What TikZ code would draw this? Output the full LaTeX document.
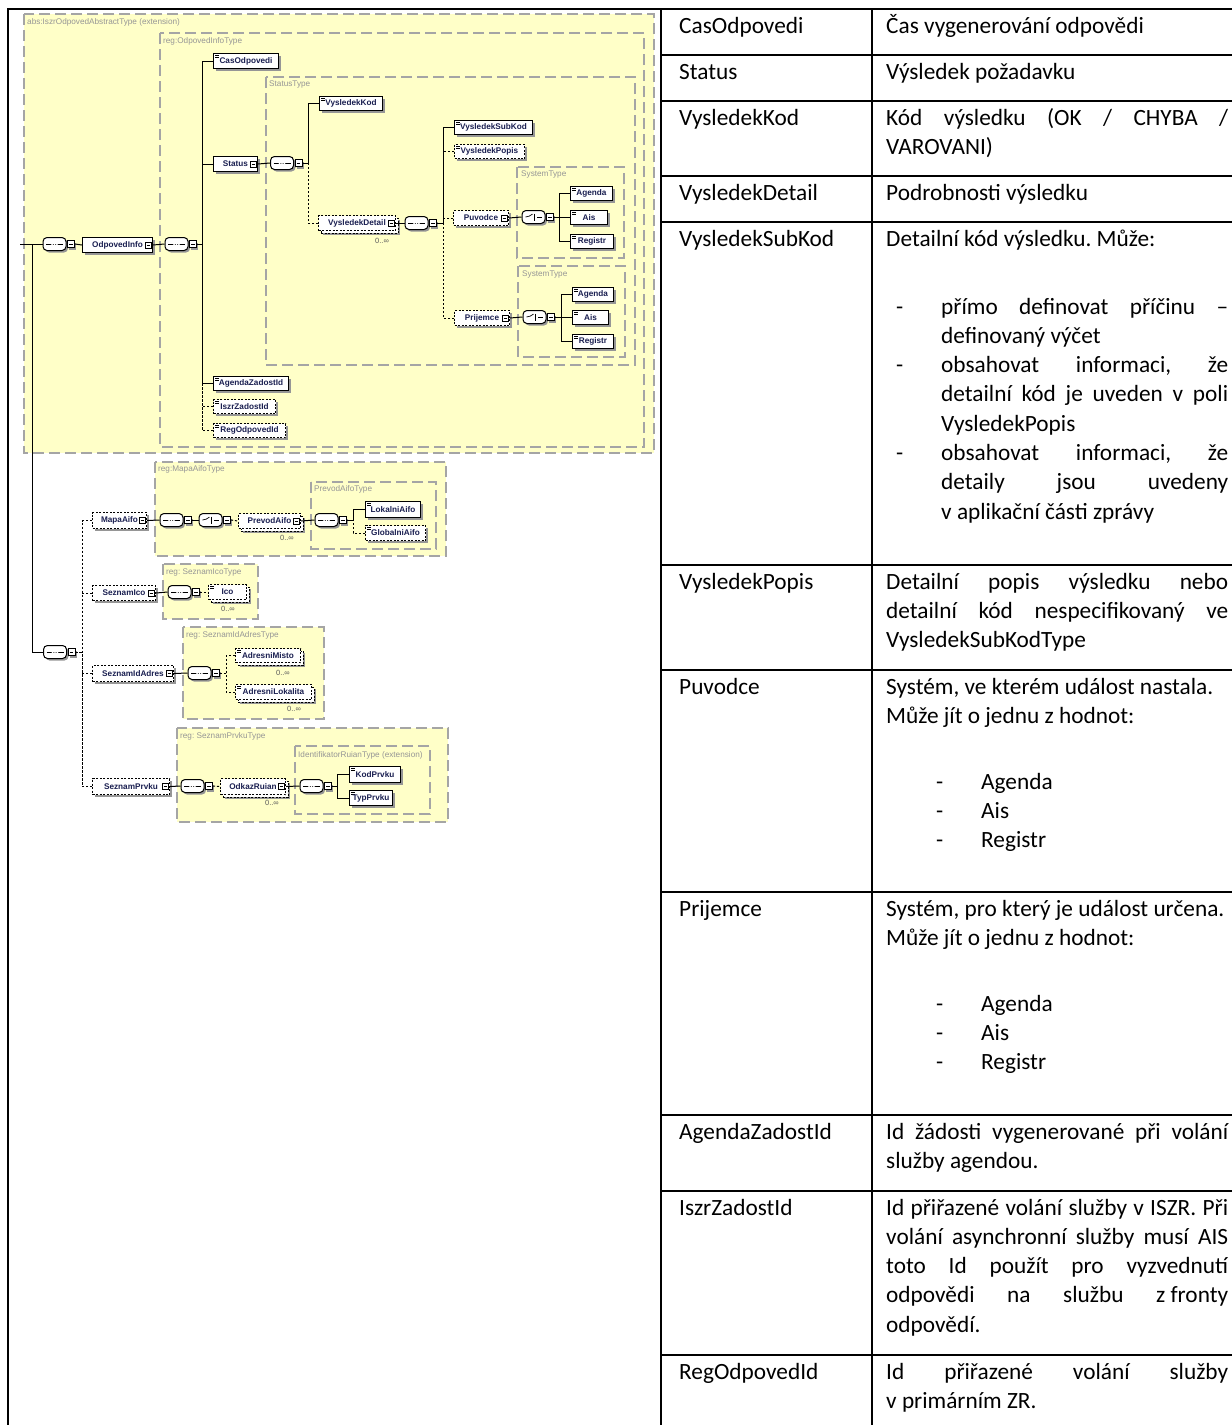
\documentclass[tikz,border=0pt]{standalone}
\usepackage{fontspec}
\setmainfont{Carlito}
\newfontfamily\dfont{Liberation Sans}
\definecolor{ylw}{RGB}{255,255,200}
\definecolor{boxgray}{RGB}{165,165,165}
\definecolor{labgray}{RGB}{150,150,150}
\definecolor{shgray}{RGB}{150,150,150}
\definecolor{eltext}{RGB}{25,30,80}
\definecolor{occgray}{RGB}{90,90,90}
\frenchspacing
\tikzset{
 ybox/.style={draw=boxgray, fill=ylw, line width=1.1pt, dash pattern=on 11pt off 5pt},
 tlab/.style={font=\dfont\fontsize{8.2}{9}\selectfont, text=labgray, anchor=west, inner sep=0},
 shadowed/.style={preaction={fill=shgray, draw=none, transform canvas={shift={(2pt,-2pt)}}}},
 el/.style={rectangle, draw=black, line width=1pt, fill=white, inner sep=0, anchor=north west,
   font=\dfont\bfseries\fontsize{8.2}{9}\selectfont, text=eltext, shadowed},
 opt/.style={dash pattern=on 2pt off 1.5pt},
 simp/.style={path picture={\draw[solid,line width=0.6pt]
   ([xshift=1.5pt,yshift=-2pt]path picture bounding box.north west) -- ++(4pt,0pt)
   ([xshift=1.5pt,yshift=-3.6pt]path picture bounding box.north west) -- ++(4pt,0pt);}},
 expd/.style={path picture={\draw[solid, line width=0.8pt, fill=white]
   ([xshift=-7.5pt,yshift=-3pt]path picture bounding box.east) rectangle ([xshift=-1.5pt,yshift=3pt]path picture bounding box.east);
   \draw[solid,line width=0.7pt] ([xshift=-6pt]path picture bounding box.east) -- ([xshift=-3pt]path picture bounding box.east);}},
 multi/.style={preaction={fill=shgray,draw=none,transform canvas={shift={(4.5pt,-4.5pt)}}},
   preaction={fill=white,draw=black,dash pattern=on 2pt off 1.5pt,transform canvas={shift={(2.5pt,-2.5pt)}}}},
 comp/.style={rectangle, rounded corners=4pt, draw=black, line width=1pt, fill=white,
   minimum width=23pt, minimum height=13pt, inner sep=0, shadowed},
 seqc/.style={comp, path picture={\draw[solid,line width=0.8pt]
   ([xshift=3pt]path picture bounding box.west) -- ([xshift=-3pt]path picture bounding box.east);
   \foreach \d in {-2.4,0,2.4}{\fill ([xshift=\d pt]path picture bounding box.center) circle (1.2pt);}}},
 choicec/.style={comp, path picture={
   \draw[solid,line width=0.7pt] ([xshift=-8pt]path picture bounding box.center) -- ([xshift=-4pt]path picture bounding box.center) -- ([xshift=-1pt,yshift=3pt]path picture bounding box.center);
   \draw[solid,line width=0.8pt] ([xshift=1pt,yshift=3.5pt]path picture bounding box.center) -- ([xshift=1pt,yshift=-3.5pt]path picture bounding box.center);
   \foreach \d in {-2.5,0,2.5}{\fill ([xshift=3pt,yshift=\d pt]path picture bounding box.center) circle (0.6pt);}
   \draw[solid,line width=0.7pt] ([xshift=3.5pt]path picture bounding box.center) -- ([xshift=8pt]path picture bounding box.center);}},
 exsq/.style={rectangle, draw=black, line width=0.9pt, fill=white, minimum size=7pt, inner sep=0,
   anchor=west, shadowed, path picture={\draw[solid,line width=0.7pt]
   ([xshift=-1.8pt]path picture bounding box.center) -- ([xshift=1.8pt]path picture bounding box.center);}},
 conn/.style={line width=1pt, draw=black},
 optc/.style={conn, dash pattern=on 2.2pt off 1.8pt},
 occ/.style={font=\dfont\fontsize{7.5}{8}\selectfont, text=occgray, inner sep=0},
 tline/.style={line width=2pt, draw=black, line cap=rect},
 tfont/.style={font=\fontsize{23.3}{29.3}\selectfont, anchor=base west, inner sep=0},
}
\newcommand{\Seq}[3]{\node[seqc] (#1) at (#2,#3) {}; \node[exsq] (#1x) at ([xshift=0.5pt]#1.east) {};}
\newcommand{\Cho}[3]{\node[choicec] (#1) at (#2,#3) {}; \node[exsq] (#1x) at ([xshift=0.5pt]#1.east) {};}
\newcommand{\El}[7][]{\node[el,#1,minimum width=#6pt,minimum height=#7pt] (#2) at (#4,#5) {#3};}
\newcommand{\J}[2]{\makebox[#1pt][s]{#2}}
\begin{document}
\begin{tikzpicture}[x=1pt,y=-1pt]
\useasboundingbox (0,0) rectangle (1232,1425);
% ---------- type boxes ----------
\draw[ybox] (24,14) rectangle (654,453);
\draw[ybox] (160,33) rectangle (644,447);
\draw[ybox] (266,77) rectangle (635,365);
\draw[ybox] (517,167) rectangle (624,258);
\draw[ybox] (518,266) rectangle (625,357);
\draw[ybox] (155,462) rectangle (446,556);
\draw[ybox] (311,482) rectangle (436,549);
\draw[ybox] (163,564) rectangle (258,619);
\draw[ybox] (183,627) rectangle (324,719);
\draw[ybox] (177,728) rectangle (448,822);
\draw[ybox] (295,746) rectangle (430,814);
\node[tlab] (L1) at (27,22) {abs:IszrOdpovedAbstractType (extension)};
\node[tlab] (L2) at (163,41) {reg:OdpovedInfoType};
\node[tlab] (L3) at (269,84) {StatusType};
\node[tlab] (L4) at (521,174) {SystemType};
\node[tlab] (L5) at (522,274) {SystemType};
\node[tlab] (L6) at (158,469) {reg:MapaAifoType};
\node[tlab] (L7) at (314,489) {PrevodAifoType};
\node[tlab] (L8) at (166,572) {reg: SeznamIcoType};
\node[tlab] (L9) at (186,635) {reg: SeznamIdAdresType};
\node[tlab] (L10) at (180,736) {reg: SeznamPrvkuType};
\node[tlab] (L11) at (298,755) {IdentifikatorRuianType (extension)};
% ---------- compositors ----------
\Seq{q1}{54.5}{244}
\Seq{q2}{176.5}{244}
\Seq{q3}{282}{163}
\Seq{q4}{416.5}{223}
\Cho{c1}{533.5}{217}
\Cho{c2}{534.5}{317}
\Seq{q5}{55}{652}
\Seq{q6}{171.5}{520}
\Cho{c3}{210.5}{520}
\Seq{q7}{326.5}{520}
\Seq{q8}{179.5}{592}
\Seq{q9}{199.5}{673}
\Seq{q10}{192.5}{786}
\Seq{q11}{311.5}{786}
% ---------- elements ----------
\El[expd]{od}{OdpovedInfo}{82}{237}{70}{15}
\El[simp]{cas}{CasOdpovedi}{213}{53}{65}{15}
\El[expd]{st}{Status}{213}{156}{44}{15}
\El[simp]{vk}{VysledekKod}{319}{96}{63}{14}
\El[opt,multi,expd]{vd}{VysledekDetail}{318}{215}{77}{15}
\El[simp]{vsk}{VysledekSubKod}{454}{120}{78}{14}
\El[opt,simp]{vp}{VysledekPopis}{454}{144}{70}{14}
\El[opt,expd]{pu}{Puvodce}{453}{210}{55}{15}
\El[opt,expd]{pr}{Prijemce}{454}{310}{55}{15}
\El[simp]{a1}{Agenda}{570}{186}{42}{14}
\El[simp]{i1}{Ais}{570}{210}{37}{14}
\El[simp]{r1}{Registr}{570}{234}{43}{14}
\El[simp]{a2}{Agenda}{572}{287}{41}{14}
\El[simp]{i2}{Ais}{572}{310}{36}{14}
\El[simp]{r2}{Registr}{572}{334}{41}{14}
\El[simp]{agz}{AgendaZadostId}{213}{376}{75}{14}
\El[opt,simp]{isz}{IszrZadostId}{213}{399}{62}{14}
\El[opt,simp]{rgo}{RegOdpovedId}{213}{423}{72}{14}
\El[opt,expd]{ma}{MapaAifo}{92}{512}{54}{16}
\El[opt,multi,expd]{pa}{PrevodAifo}{238}{513}{62}{15}
\El[simp]{la}{LokalniAifo}{365}{501}{55}{16}
\El[opt,simp]{ga}{GlobalniAifo}{365}{525}{60}{15}
\El[opt,expd]{si}{SeznamIco}{92}{585}{63}{15}
\El[opt,multi,simp]{ico}{Ico}{208}{584}{38}{15}
\El[opt,expd]{sa}{SeznamIdAdres}{92}{665}{81}{16}
\El[opt,multi,simp]{am}{AdresniMisto}{235}{648}{65}{14}
\El[opt,multi,simp]{al}{AdresniLokalita}{235}{684}{76}{15}
\El[opt,expd]{sp}{SeznamPrvku}{92}{778}{77}{16}
\El[opt,multi,expd]{or}{OdkazRuian}{220}{778}{65}{16}
\El[simp]{kp}{KodPrvku}{349}{766}{51}{16}
\El[simp]{tp}{TypPrvku}{349}{790}{43}{15}
% occurrence labels
\node[occ] (o1) at (382,241) {0..∞};
\node[occ] (o2) at (287,538) {0..∞};
\node[occ] (o3) at (228,609) {0..∞};
\node[occ] (o4) at (283,673) {0..∞};
\node[occ] (o5) at (294,709) {0..∞};
\node[occ] (o6) at (272,803) {0..∞};
% ---------- bus coordinates ----------
\coordinate (s0) at (20,244);
\coordinate (b0) at (32,244);
\coordinate (b1) at (202,244);
\coordinate (b2) at (308,163);
\coordinate (b3) at (443,223);
\coordinate (b4) at (559,217);
\coordinate (b5) at (561,317);
\coordinate (b6) at (82,652);
\coordinate (b7) at (353,520);
\coordinate (b8) at (226,673);
\coordinate (b9) at (337,786);
% ---------- connectors ----------
\draw[conn] (s0) -- (q1.west);
\draw[conn] (b0) |- (q5.west);
\draw[conn] (q1x.east) -- (od.west);
\draw[conn] (od.east) -- (q2.west);
\draw[conn] (q2x.east) -- (b1);
\draw[conn] (cas.west) -| (b1);
\draw[conn] (st.west) -| (b1);
\draw[conn] (agz.west) -| (b1);
\draw[optc] (isz.west) -| (agz.west -| b1);
\draw[optc] (rgo.west) -| (isz.west -| b1);
\draw[conn] (st.east) -- (q3.west);
\draw[conn] (q3x.east) -- (b2);
\draw[conn] (vk.west) -| (b2);
\draw[optc] (vd.west) -| (b2);
\draw[conn] (vd.east) -- (q4.west);
\draw[conn] (q4x.east) -- (b3);
\draw[conn] (vsk.west) -| (b3);
\draw[optc] (vp.west) -- (vp.west -| b3);
\draw[optc] (pu.west) -- (pu.west -| b3);
\draw[optc] (pr.west) -| (b3);
\draw[conn] (pu.east) -- (c1.west);
\draw[conn] (c1x.east) -- (b4);
\draw[conn] (a1.west) -| (b4);
\draw[conn] (r1.west) -| (b4);
\draw[conn] (i1.west) -- (i1.west -| b4);
\draw[conn] (pr.east) -- (c2.west);
\draw[conn] (c2x.east) -- (b5);
\draw[conn] (a2.west) -| (b5);
\draw[conn] (r2.west) -| (b5);
\draw[conn] (i2.west) -- (i2.west -| b5);
\draw[optc] (q5x.east) -- (b6);
\draw[optc] (ma.west) -| (b6);
\draw[optc] (sp.west) -| (b6);
\draw[optc] (si.west) -- (si.west -| b6);
\draw[optc] (sa.west) -- (sa.west -| b6);
\draw[conn] (ma.east) -- (q6.west);
\draw[conn] (q6x.east) -- (c3.west);
\draw[optc] (c3x.east) -- (pa.west);
\draw[conn] (pa.east) -- (q7.west);
\draw[conn] (q7x.east) -- (b7);
\draw[conn] (la.west) -| (b7);
\draw[optc] (ga.west) -| (b7);
\draw[conn] (si.east) -- (q8.west);
\draw[optc] (q8x.east) -- (ico.west);
\draw[conn] (sa.east) -- (q9.west);
\draw[optc] (q9x.east) -- (b8);
\draw[optc] (am.west) -| (b8);
\draw[optc] (al.west) -| (b8);
\draw[conn] (sp.east) -- (q10.west);
\draw[optc] (q10x.east) -- (or.west);
\draw[conn] (or.east) -- (q11.west);
\draw[conn] (q11x.east) -- (b9);
\draw[conn] (kp.west) -| (b9);
\draw[conn] (tp.west) -| (b9);
% ---------- table ----------
\draw[tline] (8,9) -- (1232,9);
\draw[tline] (8,9) -- (8,1425);
\draw[tline] (661,9) -- (661,1425);
\draw[tline] (872,9) -- (872,1425);
\foreach \yy in {55,101,176,222,565,670,892,1115,1191,1355}{\draw[tline] (661,\yy) -- (1232,\yy);}
% left column
\node[tfont] (k1) at (679,33) {CasOdpovedi};
\node[tfont] (k2) at (679,79) {Status};
\node[tfont] (k3) at (679,125) {VysledekKod};
\node[tfont] (k4) at (679,200) {VysledekDetail};
\node[tfont] (k5) at (679,246) {VysledekSubKod};
\node[tfont] (k6) at (679,589) {VysledekPopis};
\node[tfont] (k7) at (679,694) {Puvodce};
\node[tfont] (k8) at (679,916) {Prijemce};
\node[tfont] (k9) at (679,1139) {AgendaZadostId};
\node[tfont] (k10) at (679,1215) {IszrZadostId};
\node[tfont] (k11) at (679,1379) {RegOdpovedId};
% right column
\node[tfont] (v1) at (886,33) {Čas vygenerování odpovědi};
\node[tfont] (v2) at (886,79) {Výsledek požadavku};
\node[tfont] (v3a) at (886,125) {\J{342}{Kód výsledku (OK / CHYBA /}};
\node[tfont] (v3b) at (886,154.3) {VAROVANI)};
\node[tfont] (v4) at (886,200) {Podrobnosti výsledku};
\node[tfont] (v5a) at (886,246) {Detailní kód výsledku. Může:};
\node[tfont] (d51) at (896,314) {-};
\node[tfont] (d52) at (896,372.6) {-};
\node[tfont] (d53) at (896,460.5) {-};
\node[tfont] (v5b) at (941,314) {\J{287}{přímo definovat příčinu –}};
\node[tfont] (v5c) at (941,343.3) {definovaný výčet};
\node[tfont] (v5d) at (941,372.6) {\J{287}{obsahovat informaci, že}};
\node[tfont] (v5e) at (941,401.9) {\J{287}{detailní kód je uveden v poli}};
\node[tfont] (v5f) at (941,431.2) {VysledekPopis};
\node[tfont] (v5g) at (941,460.5) {\J{287}{obsahovat informaci, že}};
\node[tfont] (v5h) at (941,489.8) {\J{287}{detaily jsou uvedeny}};
\node[tfont] (v5i) at (941,519.1) {v aplikační části zprávy};
\node[tfont] (v6a) at (886,589) {\J{342}{Detailní popis výsledku nebo}};
\node[tfont] (v6b) at (886,618.3) {\J{342}{detailní kód nespecifikovaný ve}};
\node[tfont] (v6c) at (886,647.6) {VysledekSubKodType};
\node[tfont] (v7a) at (886,694) {Systém, ve kterém událost nastala.};
\node[tfont] (v7b) at (886,723.3) {Může jít o jednu z hodnot:};
\node[tfont] (d71) at (936,789) {-};
\node[tfont] (d72) at (936,818.3) {-};
\node[tfont] (d73) at (936,847.6) {-};
\node[tfont] (v7c) at (981,789) {Agenda};
\node[tfont] (v7d) at (981,818.3) {Ais};
\node[tfont] (v7e) at (981,847.6) {Registr};
\node[tfont] (v8a) at (886,916) {Systém, pro který je událost určena.};
\node[tfont] (v8b) at (886,945.3) {Může jít o jednu z hodnot:};
\node[tfont] (d81) at (936,1011) {-};
\node[tfont] (d82) at (936,1040.3) {-};
\node[tfont] (d83) at (936,1069.6) {-};
\node[tfont] (v8c) at (981,1011) {Agenda};
\node[tfont] (v8d) at (981,1040.3) {Ais};
\node[tfont] (v8e) at (981,1069.6) {Registr};
\node[tfont] (v9a) at (886,1139) {\J{342}{Id žádosti vygenerované při volání}};
\node[tfont] (v9b) at (886,1168.3) {služby agendou.};
\node[tfont] (v10a) at (886,1215) {\J{342}{Id přiřazené volání služby v ISZR. Při}};
\node[tfont] (v10b) at (886,1244.3) {\J{342}{volání asynchronní služby musí AIS}};
\node[tfont] (v10c) at (886,1273.6) {\J{342}{toto Id použít pro vyzvednutí}};
\node[tfont] (v10d) at (886,1302.9) {\J{342}{odpovědi na službu \mbox{z fronty}}};
\node[tfont] (v10e) at (886,1332.2) {odpovědí.};
\node[tfont] (v11a) at (886,1379) {\J{342}{Id přiřazené volání služby}};
\node[tfont] (v11b) at (886,1408.3) {v primárním ZR.};
\end{tikzpicture}
\end{document}
